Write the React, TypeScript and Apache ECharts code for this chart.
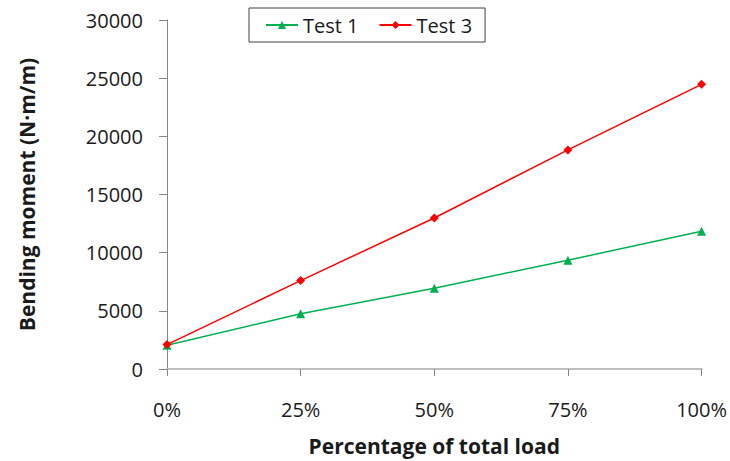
import React, { useEffect, useRef } from "react";
import * as echarts from "echarts";

const categories = ["0%", "25%", "50%", "75%", "100%"];
const test1 = [2050, 4750, 6950, 9350, 11850];
const test3 = [2100, 7600, 12980, 18830, 24470];
const yTicks = { min: 0, max: 30000, interval: 5000 };

export default function App() {
  const ref = useRef<HTMLDivElement>(null);
  useEffect(() => {
    if (!ref.current) return;
    const chart = echarts.init(ref.current, null, { renderer: "svg" });
    const font = "'Open Sans', sans-serif";
    chart.setOption({
      animation: false,
      backgroundColor: "#ffffff",
      textStyle: { fontFamily: font },
      grid: { left: 167, right: 28, top: 20, bottom: 90, containLabel: false },
      legend: {
        left: 249,
        top: 8,
        padding: [7, 13, 7, 16],
        itemGap: 20,
        itemWidth: 32,
        itemHeight: 10,
        borderColor: "#404040",
        borderWidth: 1,
        textStyle: { fontSize: 20, color: "#1a1a1a", fontFamily: font },
        data: ["Test 1", "Test 3"],
      },
      xAxis: {
        type: "category",
        data: categories,
        boundaryGap: false,
        axisLine: { lineStyle: { color: "#bfbfbf", width: 2 } },
        axisTick: { show: true, inside: false, length: 7, lineStyle: { color: "#868686" } },
        axisLabel: { fontSize: 20, color: "#1a1a1a", margin: 30, fontFamily: font },
        name: "Percentage of total load",
        nameLocation: "middle",
        nameGap: 66,
        nameTextStyle: { fontSize: 21, fontWeight: "bold", color: "#1a1a1a", fontFamily: font },
        splitLine: { show: false },
      },
      yAxis: {
        type: "value",
        min: yTicks.min,
        max: yTicks.max,
        interval: yTicks.interval,
        axisLine: { show: true, lineStyle: { color: "#868686", width: 1 } },
        axisTick: { show: true, inside: false, length: 8, lineStyle: { color: "#868686" } },
        axisLabel: {
          fontSize: 20,
          color: "#1a1a1a",
          margin: 24,
          fontFamily: font,
          formatter: (v: number) => String(v),
        },
        splitLine: { show: false },
        name: "Bending moment (N·m/m)",
        nameLocation: "middle",
        nameGap: 130,
        nameTextStyle: { fontSize: 21, fontWeight: "bold", color: "#1a1a1a", fontFamily: font },
      },
      series: [
        {
          name: "Test 1",
          type: "line",
          data: test1,
          symbol: "triangle",
          symbolSize: 9,
          itemStyle: { color: "#00b050" },
          lineStyle: { color: "#00b050", width: 1.5 },
        },
        {
          name: "Test 3",
          type: "line",
          data: test3,
          symbol: "diamond",
          symbolSize: 9,
          itemStyle: { color: "#ff0000" },
          lineStyle: { color: "#ff0000", width: 1.5 },
        },
      ],
    });
    return () => chart.dispose();
  }, []);
  return <div ref={ref} style={{ width: 730, height: 461, position: "absolute", left: 0, top: 0 }} />;
}
